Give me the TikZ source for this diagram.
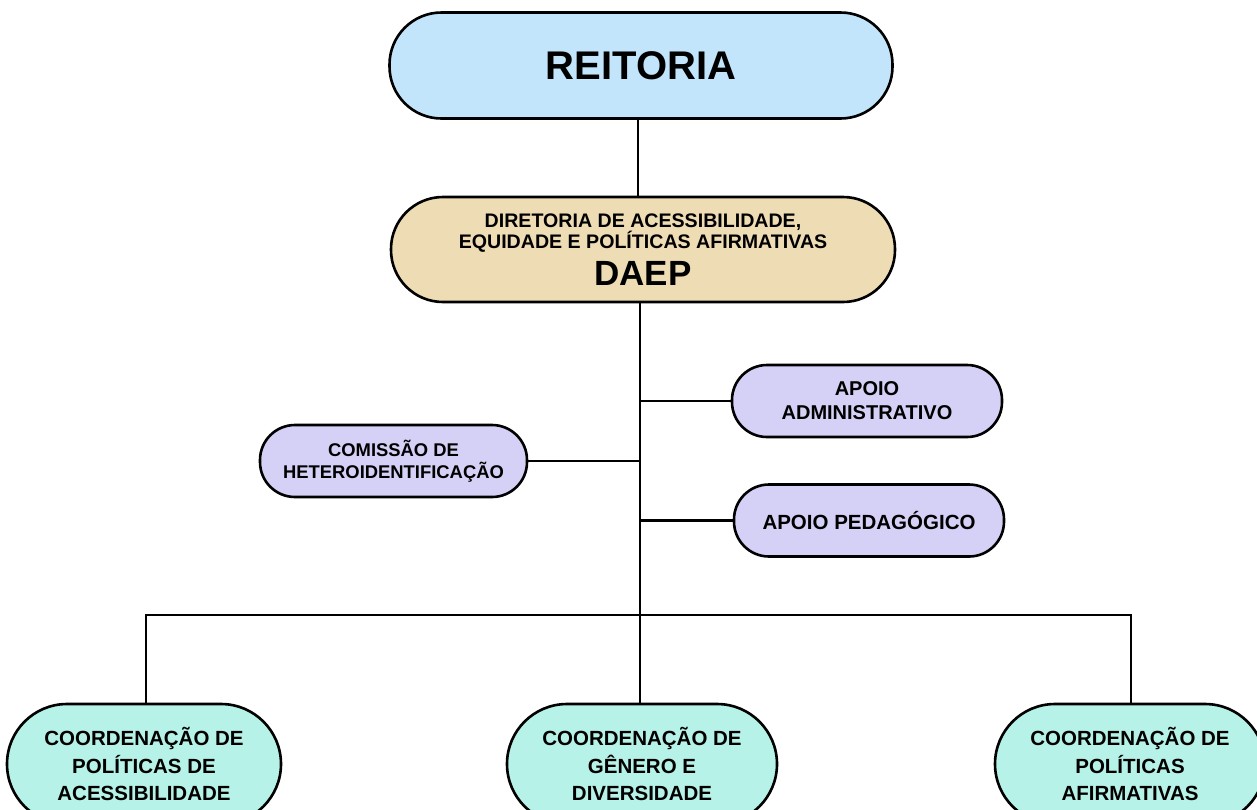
\documentclass[tikz,border=0pt]{standalone}
\usepackage{fontspec}
\setmainfont{Liberation Sans}
\definecolor{cblue}{HTML}{C2E5FB}
\definecolor{ctan}{HTML}{EEDCB4}
\definecolor{cpurple}{HTML}{D5D0F5}
\definecolor{cteal}{HTML}{B6F2E8}
\newcommand{\fs}[2]{\fontsize{#1}{#2}\selectfont\bfseries}
\tikzset{
  box/.style={draw=black, line width=2.6pt, rounded corners=#1, align=center, inner sep=0pt, text=black},
  conn/.style={draw=black, line width=2.6pt},
}
\begin{document}
\begin{tikzpicture}[x=1pt,y=-1pt]
\useasboundingbox (0,0) rectangle (1257,809);
\fill[white] (0,0) rectangle (1257,809);
\begin{scope}
\clip (0,0) rectangle (1257,809);
\node[box=52pt, fill=cblue, minimum width=503pt, minimum height=106pt, font=\fs{40}{44}] (reit) at (641,65.5) {REITORIA};
\node[box=52pt, fill=ctan, minimum width=504pt, minimum height=105pt, font=\fs{19.6}{21}] (daep) at (643,249.5)
  {DIRETORIA DE ACESSIBILIDADE,\\EQUIDADE E POLÍTICAS AFIRMATIVAS\\[8pt]{\fs{35}{30}DAEP}};
\node[box=35pt, fill=cpurple, minimum width=270pt, minimum height=72pt, font=\fs{20}{24}] (admin) at (867,401)
  {APOIO\\ADMINISTRATIVO};
\node[box=35pt, fill=cpurple, minimum width=267pt, minimum height=72pt, font=\fs{18.4}{22}] (com) at (393.5,461)
  {COMISSÃO DE\\HETEROIDENTIFICAÇÃO};
\node[box=35pt, fill=cpurple, minimum width=270pt, minimum height=72pt, font=\fs{20.5}{24}] (ped) at (869,520.5)
  {APOIO PEDAGÓGICO};
\node[box=60pt, fill=cteal, minimum width=274pt, minimum height=120pt, font=\fs{20.5}{27.5}] (cpa) at (144,764)
  {COORDENAÇÃO DE\\POLÍTICAS DE\\ACESSIBILIDADE};
\node[box=60pt, fill=cteal, minimum width=270pt, minimum height=120pt, font=\fs{20.5}{27.5}] (cgd) at (642,764)
  {COORDENAÇÃO DE\\GÊNERO E\\DIVERSIDADE};
\node[box=60pt, fill=cteal, minimum width=270pt, minimum height=120pt, font=\fs{20.5}{27.5}] (cpaf) at (1130,764)
  {COORDENAÇÃO DE\\POLÍTICAS\\AFIRMATIVAS};
\coordinate (bar) at (640,615);
\draw[conn] (reit.south -| 638,0) -- (daep.north -| 638,0);
\draw[conn] (daep.south -| 640,0) -- (cgd.north -| 640,0);
\draw[conn] (admin.west) -- (admin.west -| 640,0);
\draw[conn] (com.east) -- (com.east -| 640,0);
\draw[conn] (ped.west) -- (ped.west -| 640,0);
\draw[conn] (cpa.north -| 146,0) |- (bar) -| (cpaf.north -| 1131,0);
\end{scope}
\end{tikzpicture}
\end{document}
